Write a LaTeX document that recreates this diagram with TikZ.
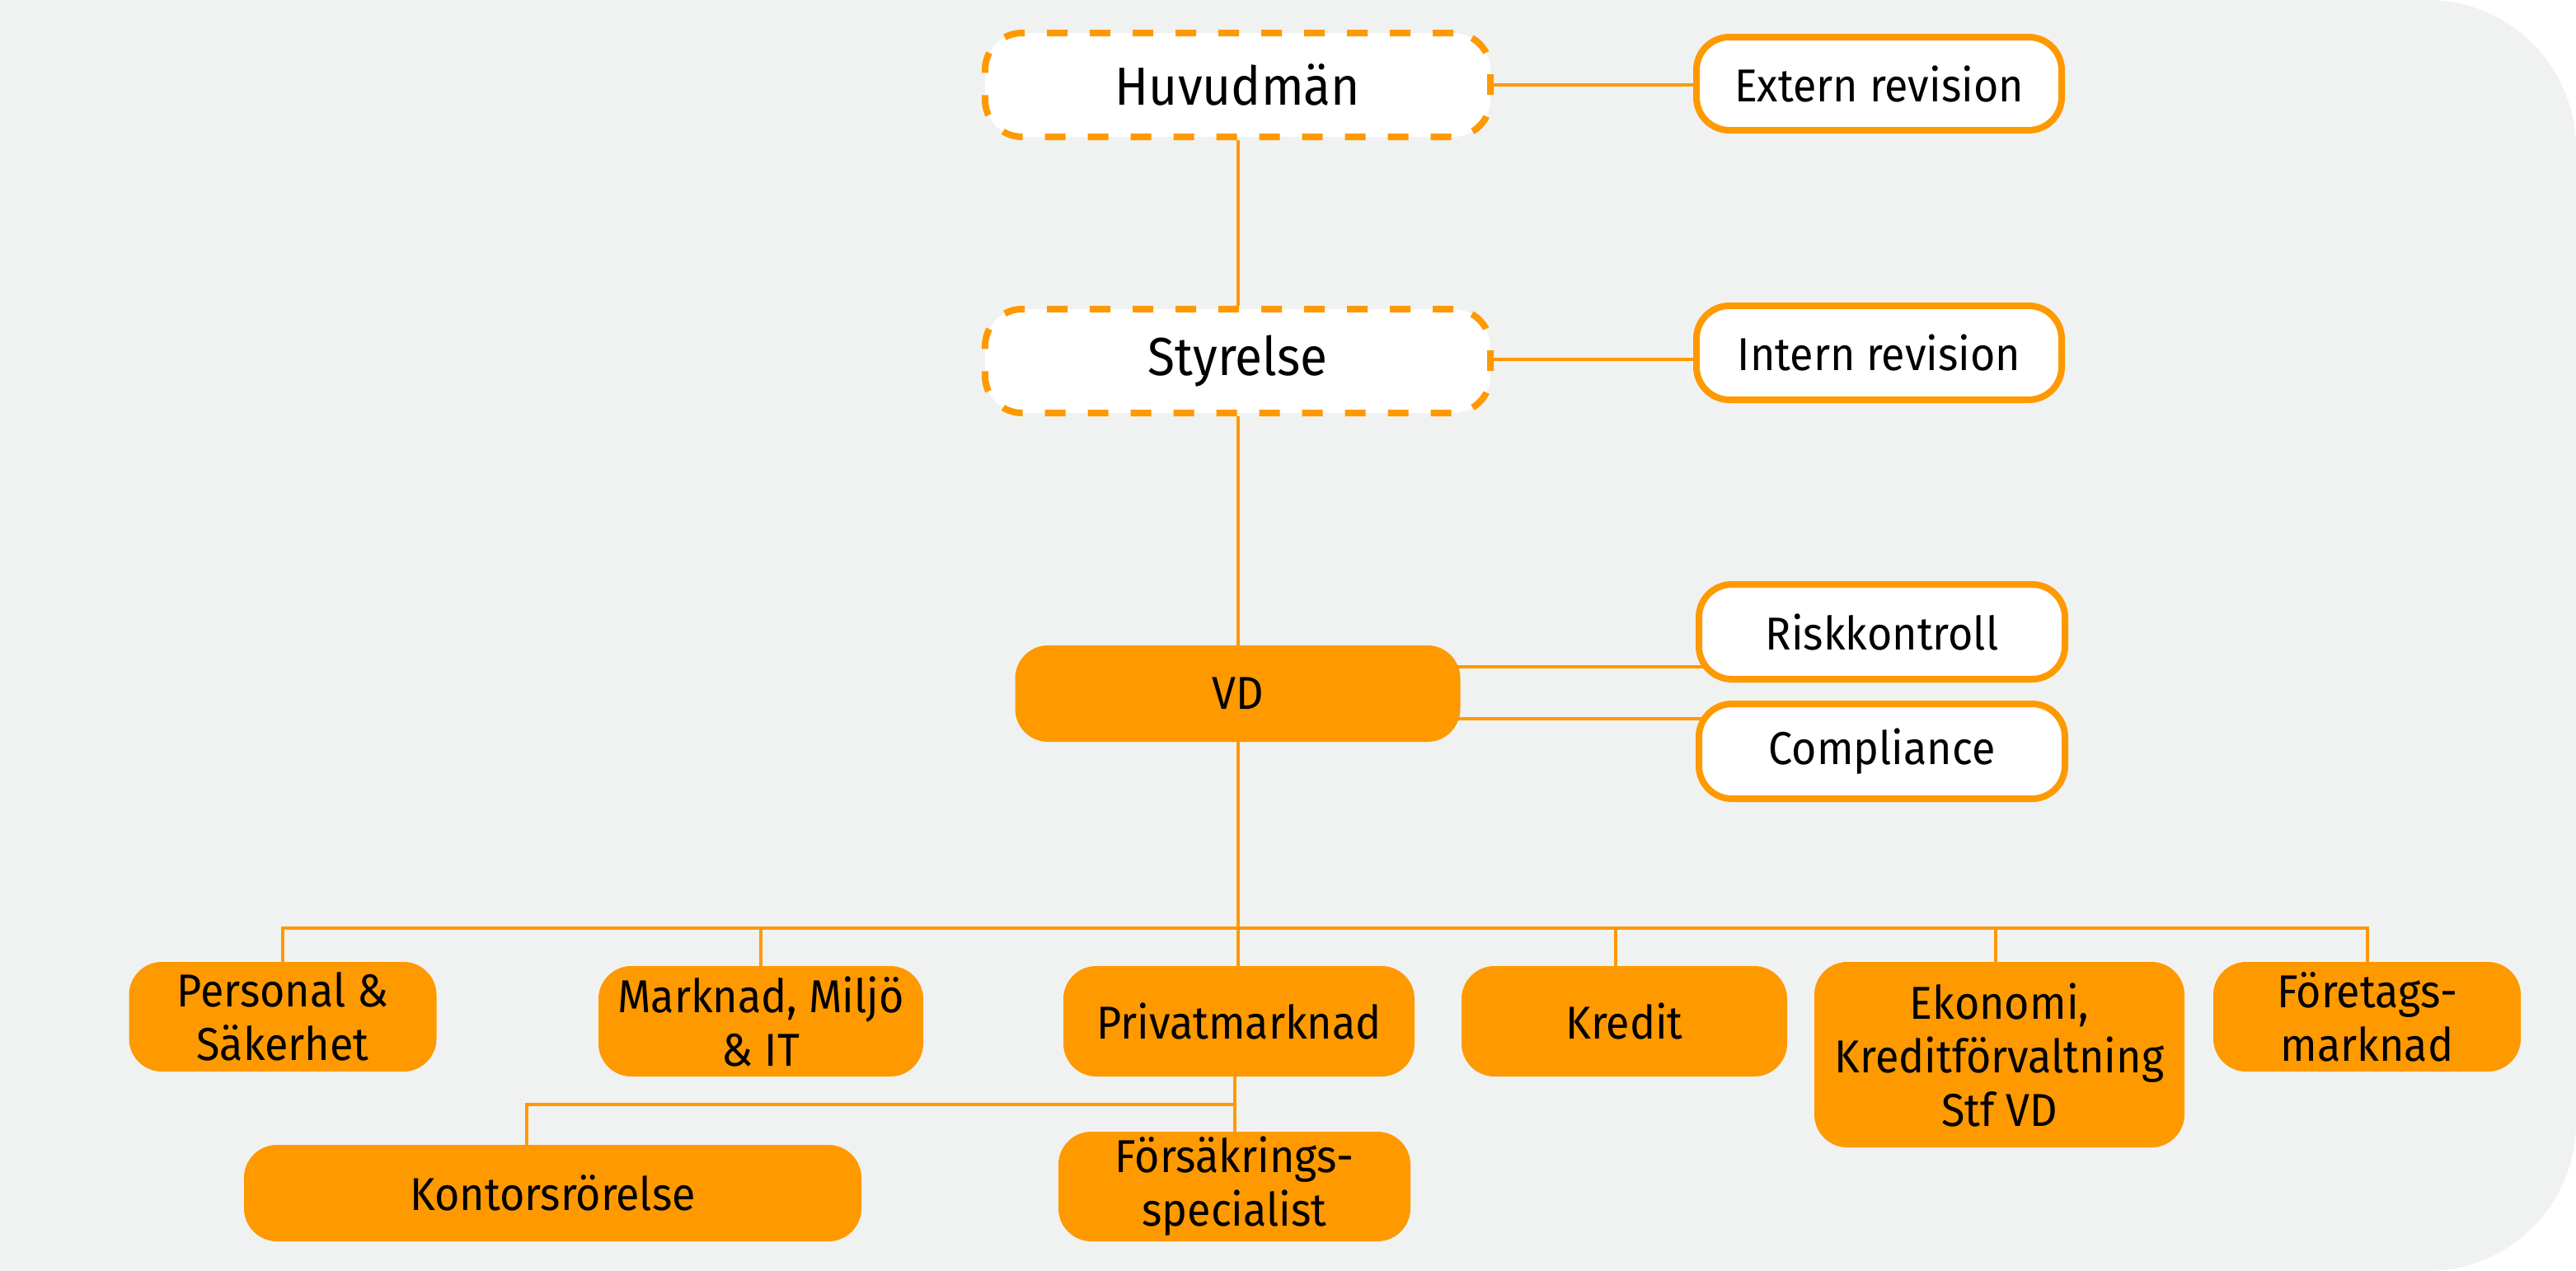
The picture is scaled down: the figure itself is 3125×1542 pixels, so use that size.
\documentclass[tikz,border=0pt]{standalone}
\usepackage{fontspec}
\setmainfont[FakeStretch=0.93]{Fira Sans}
\usetikzlibrary{backgrounds}
\definecolor{org}{HTML}{FF9900}
\definecolor{bgc}{HTML}{F0F2F1}
\begin{document}
\begin{tikzpicture}[x=1pt,y=-1pt,
  box/.style={rounded corners=40pt, inner sep=0pt, align=center, text=black,
    font=\fontsize{56}{65}\selectfont},
  wbox/.style={box, draw=org, fill=white, line width=8pt},
  obox/.style={box, fill=org},
  dbox/.style={box, draw=org, fill=white, line width=8pt,
    dash pattern=on 25pt off 27pt, rounded corners=45pt,
    font=\fontsize{65}{75}\selectfont},
  conn/.style={draw=org, line width=4pt}]
\useasboundingbox (0,0) rectangle (3125,1542);

% top part
\node[dbox, minimum width=613pt, minimum height=126pt] (huv) at (1501.5,103) {Huvudmän};
\node[dbox, minimum width=613pt, minimum height=126pt] (sty) at (1501.5,438) {Styrelse};
\node[wbox, minimum width=443pt, minimum height=113pt] (ext) at (2279.5,101.5) {Extern revision};
\node[wbox, minimum width=443pt, minimum height=114pt] (int) at (2279.5,428) {Intern revision};
\node[wbox, minimum width=444pt, minimum height=115pt] (risk) at (2283,766.5) {Riskkontroll};
\node[wbox, minimum width=444pt, minimum height=115pt] (comp) at (2283,911.5) {Compliance};
\node[obox, minimum width=540pt, minimum height=117pt] (vd) at (1501.5,841.5) {VD};

% departments
\node[obox, minimum width=373pt, minimum height=133pt] (pers) at (343,1233.5) {Personal \&\\Säkerhet};
\node[obox, minimum width=394pt, minimum height=134pt] (mark) at (923,1239) {Marknad, Miljö\\\& IT};
\node[obox, minimum width=426pt, minimum height=134pt] (priv) at (1503,1239) {Privatmarknad};
\node[obox, minimum width=395pt, minimum height=134pt] (kred) at (1970.5,1239) {Kredit};
\node[obox, minimum width=449pt, minimum height=225pt] (eko) at (2425.5,1279.5) {Ekonomi,\\Kreditförvaltning\\Stf VD};
\node[obox, minimum width=373pt, minimum height=133pt] (foer) at (2871.5,1233.5) {Företags-\\marknad};
\node[obox, minimum width=749pt, minimum height=117pt] (kont) at (670.5,1447.5) {Kontorsrörelse};
\node[obox, minimum width=427pt, minimum height=133pt] (fors) at (1497.5,1439.5) {Försäkrings-\\specialist};

\begin{pgfonlayer}{background}
  \fill[bgc] (0,0) -- (2945,0) .. controls (3044.4,0) and (3125,80.6) .. (3125,180)
    -- (3125,1362) .. controls (3125,1461.4) and (3044.4,1542) .. (2945,1542)
    -- (0,1542) -- cycle;
  \coordinate (bus) at (1501.5,1126);
  \coordinate (sub) at (1497.5,1340);
  \draw[conn] (huv) -- (huv -| ext);
  \draw[conn] (huv) -- (sty);
  \draw[conn] (sty.center |- 0,436) -- (int.center |- 0,436);
  \draw[conn] (sty) -- (vd);
  \draw[conn] (vd.center |- 0,809) -- (risk.center |- 0,809);
  \draw[conn] (vd.center |- 0,872) -- (comp.center |- 0,872);
  \draw[conn] (vd) -- (vd |- priv);
  \draw[conn] (pers) |- (foer |- bus) -- (foer);
  \draw[conn] (mark) -- (mark |- bus);
  \draw[conn] (kred.center -| 1960,0) -- (1960,1126);
  \draw[conn] (eko.center -| 2421,0) -- (2421,1126);
  \draw[conn] (priv -| fors) -- (fors);
  \draw[conn] (sub) -| (kont.center -| 639,0);
\end{pgfonlayer}
\end{tikzpicture}
\end{document}
